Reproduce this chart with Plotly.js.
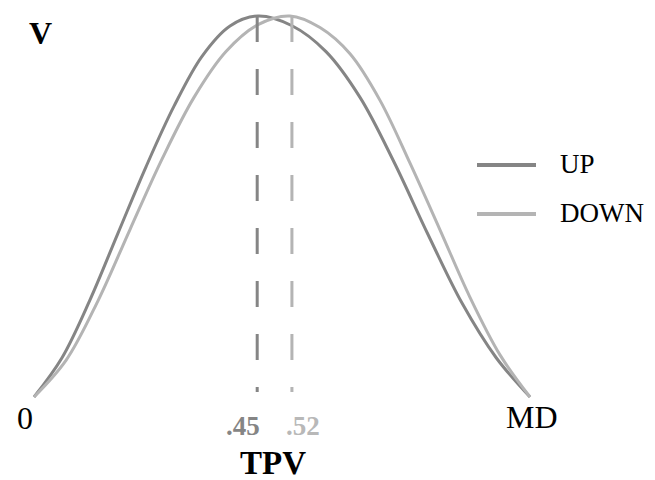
<!DOCTYPE html>
<html>
<head>
<meta charset="utf-8">
<script src="https://cdn.plot.ly/plotly-3.0.1.min.js"></script>
<style>html,body{margin:0;padding:0;background:#fff}#chart{width:655px;height:480px}</style>
</head>
<body>
<div id="chart"></div>
<script>
// TPV position (0 = start, 1 = MD) and V (normalised value)
const upX   = [0, 0.0565, 0.1129, 0.1694, 0.2258, 0.2823, 0.3387, 0.3952, 0.4516, 0.5202, 0.5887, 0.6573, 0.7258, 0.7944, 0.8629, 0.9315, 1];
const upY   = [0, 0.1031, 0.2549, 0.4302, 0.6042, 0.7633, 0.8942, 0.9738, 1.0000, 0.9745, 0.9066, 0.7864, 0.6168, 0.4265, 0.2465, 0.1037, 0];
const downX = [0, 0.0645, 0.1290, 0.1935, 0.2581, 0.3226, 0.3871, 0.4516, 0.5161, 0.5766, 0.6371, 0.6976, 0.7581, 0.8185, 0.8790, 0.9395, 1];
const downY = [0, 0.0961, 0.2525, 0.4396, 0.6244, 0.7864, 0.9068, 0.9772, 1.0000, 0.9696, 0.9008, 0.7785, 0.6136, 0.4388, 0.2617, 0.1105, 0];
const seriesNames = ["UP", "DOWN"];
const peakTPV = [0.45, 0.52];
const peakLabels = [".45", ".52"];
const endLabels = ["0", "MD"];
const endTPV = [0, 1];

const upColor = "#858585", downColor = "#b4b4b4";
const serif = "Liberation Serif, Times New Roman, serif";

const traces = [
  {x: upX, y: upY, mode: "lines", line: {color: upColor, width: 3, shape: "spline", smoothing: 1}, name: seriesNames[0], showlegend: false, hoverinfo: "skip"},
  {x: downX, y: downY, mode: "lines", line: {color: downColor, width: 3, shape: "spline", smoothing: 1}, name: seriesNames[1], showlegend: false, hoverinfo: "skip"},
  {x: [peakTPV[0], peakTPV[0]], y: [1, 0.013], mode: "lines", line: {color: upColor, width: 3, dash: "26px,27px"}, showlegend: false, hoverinfo: "skip"},
  {x: [peakTPV[1], peakTPV[1]], y: [1, 0.013], mode: "lines", line: {color: downColor, width: 3, dash: "26px,27px"}, showlegend: false, hoverinfo: "skip"}
];

const W = 655, H = 480;
const px = v => v / W, py = v => 1 - v / H;

const annotations = [
  {xref: "paper", yref: "paper", x: px(40), y: py(33), text: "<b>V</b>", showarrow: false, font: {family: serif, size: 32, color: "#000"}, xanchor: "center", yanchor: "middle"},
  {xref: "x", yref: "paper", x: endTPV[0], xshift: -9, y: py(418), text: endLabels[0], showarrow: false, font: {family: serif, size: 32, color: "#000"}, xanchor: "center", yanchor: "middle"},
  {xref: "x", yref: "paper", x: endTPV[1], xshift: 2, y: py(417), text: endLabels[1], showarrow: false, font: {family: serif, size: 32, color: "#000"}, xanchor: "center", yanchor: "middle"},
  {xref: "x", yref: "paper", x: peakTPV[0], xshift: -14, y: py(426), text: "<b>" + peakLabels[0] + "</b>", showarrow: false, font: {family: serif, size: 27, color: "#858585"}, xanchor: "center", yanchor: "middle"},
  {xref: "x", yref: "paper", x: peakTPV[1], xshift: 11, y: py(426), text: "<b>" + peakLabels[1] + "</b>", showarrow: false, font: {family: serif, size: 27, color: "#b8b8b8"}, xanchor: "center", yanchor: "middle"},
  {xref: "paper", yref: "paper", x: px(273), y: py(463), text: "<b>TPV</b>", showarrow: false, font: {family: serif, size: 33, color: "#000"}, xanchor: "center", yanchor: "middle"},
  {xref: "paper", yref: "paper", x: px(558), y: py(164), text: seriesNames[0], showarrow: false, font: {family: serif, size: 27, color: "#000"}, xanchor: "left", yanchor: "middle"},
  {xref: "paper", yref: "paper", x: px(558), y: py(213), text: seriesNames[1], showarrow: false, font: {family: serif, size: 27, color: "#000"}, xanchor: "left", yanchor: "middle"}
];

const shapes = [
  {type: "line", xref: "paper", yref: "paper", x0: px(477), x1: px(536), y0: py(165), y1: py(165), line: {color: upColor, width: 4}},
  {type: "line", xref: "paper", yref: "paper", x0: px(477), x1: px(536), y0: py(214), y1: py(214), line: {color: downColor, width: 4}}
];

const layout = {
  width: W, height: H,
  margin: {l: 0, r: 0, t: 0, b: 0},
  paper_bgcolor: "#fff", plot_bgcolor: "#fff",
  xaxis: {range: [-34/496, (W-34)/496], visible: false, fixedrange: true},
  yaxis: {range: [(397-H)/381, 397/381], visible: false, fixedrange: true},
  showlegend: false,
  annotations: annotations,
  shapes: shapes
};

Plotly.newPlot("chart", traces, layout, {displayModeBar: false, staticPlot: true});
</script>
</body>
</html>
